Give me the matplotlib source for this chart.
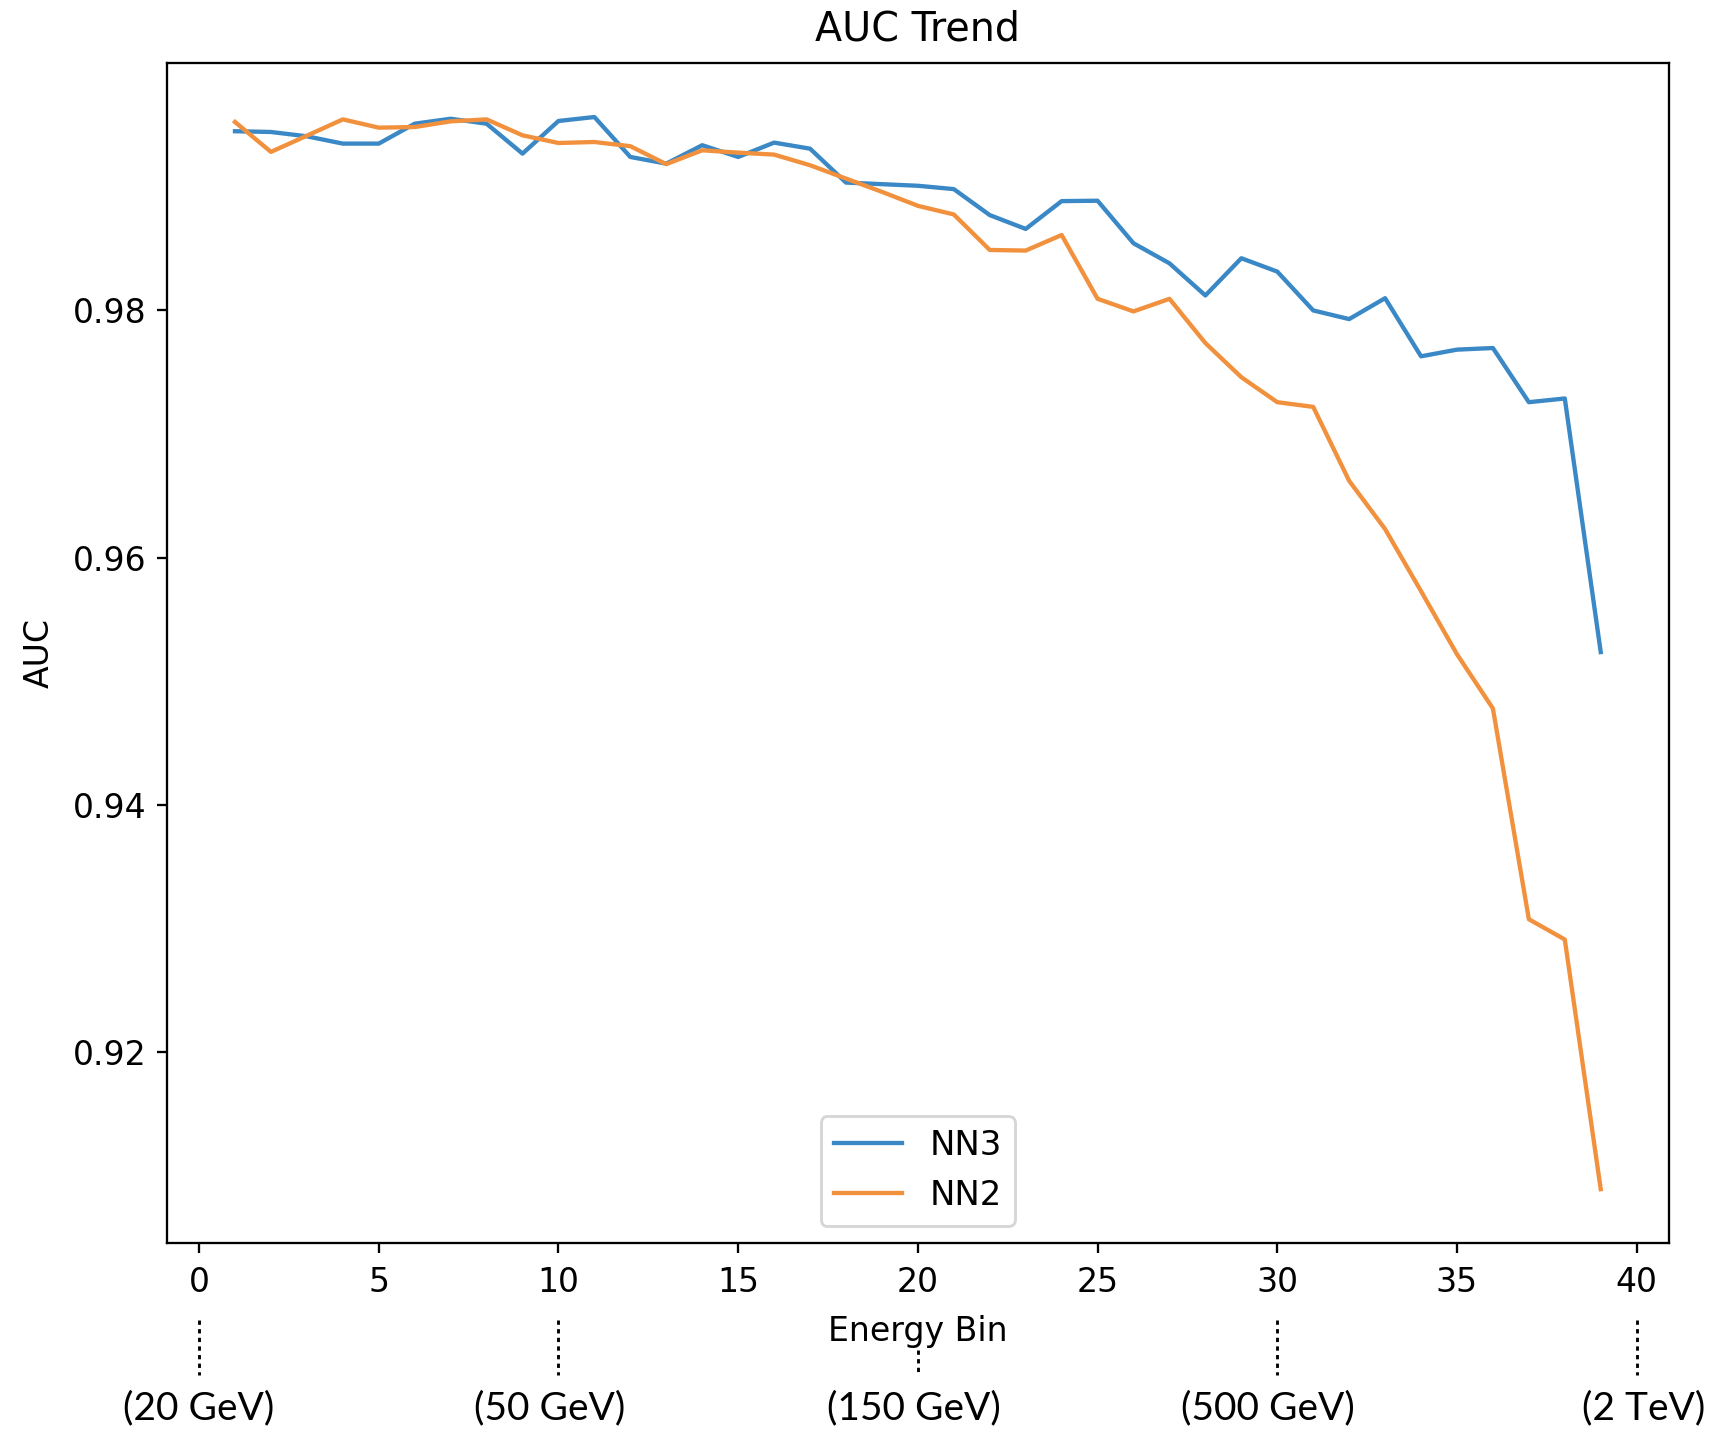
import matplotlib
matplotlib.use("Agg")
import matplotlib.pyplot as plt
from matplotlib.lines import Line2D
from matplotlib.transforms import blended_transform_factory

# AUC per energy bin for the two networks
energy_bins = list(range(1, 40))
auc_nn3 = [
    0.99449, 0.99443, 0.99408, 0.99349, 0.99349, 0.99510, 0.99550, 0.99510,
    0.99268, 0.99532, 0.99564, 0.99241, 0.99187, 0.99336, 0.99241, 0.99357,
    0.99308, 0.99034, 0.99021, 0.99008, 0.98981, 0.98771, 0.98659, 0.98884,
    0.98887, 0.98543, 0.98381, 0.98121, 0.98422, 0.98314, 0.98000, 0.97930,
    0.98099, 0.97629, 0.97683, 0.97696, 0.97258, 0.97288, 0.95237,
]
auc_nn2 = [
    0.99524, 0.99282, 0.99413, 0.99545, 0.99478, 0.99483, 0.99529, 0.99545,
    0.99416, 0.99354, 0.99362, 0.99328, 0.99183, 0.99295, 0.99276, 0.99260,
    0.99174, 0.99066, 0.98959, 0.98846, 0.98776, 0.98489, 0.98484, 0.98610,
    0.98094, 0.97992, 0.98094, 0.97736, 0.97460, 0.97258, 0.97220, 0.96622,
    0.96232, 0.95730, 0.95220, 0.94781, 0.93077, 0.92913, 0.90894,
]

# energy scale markers below the bin axis
energy_ticks = [0, 10, 20, 30, 40]
energy_labels = ["(20 GeV)", "(50 GeV)", "(150 GeV)", "(500 GeV)", "(2 TeV)"]

DPI = 207
fig = plt.figure(figsize=(1714 / DPI, 1432 / DPI), dpi=DPI)
ax = fig.add_axes([0.09726, 0.13212, 0.8765, 0.8236])

ax.plot(energy_bins, auc_nn3, color="#3a88c5", label="NN3")
ax.plot(energy_bins, auc_nn2, color="#f2913d", label="NN2")

ax.set_title("AUC Trend", fontsize=13.8, pad=8)
ax.set_xlabel("Energy Bin", fontsize=11.5, labelpad=5.5)
ax.set_ylabel("AUC", fontsize=11.5, labelpad=6)
ax.tick_params(labelsize=11.5)
ax.tick_params(axis="x", pad=4.5)
ax.legend(loc="lower center", fontsize=11.8)

# dotted guides from the bin ticks down to the energy labels
trans = blended_transform_factory(ax.transData, fig.transFigure)
label_shift = [0.0, -0.25, -0.1, -0.25, 0.2]
for x, label, dx in zip(energy_ticks, energy_labels, label_shift):
    top = 0.0573 if x == 20 else 0.0779
    fig.add_artist(Line2D([x, x], [top, 0.0398], transform=trans,
                          color="black", linewidth=1.0,
                          linestyle=(0, (1.5, 1.5))))
    fig.text(x + dx, 0.0168, label, transform=trans, ha="center", va="center",
             fontsize=13.5, family=["Lato", "DejaVu Sans"])

fig.savefig("out.png", dpi=DPI)
